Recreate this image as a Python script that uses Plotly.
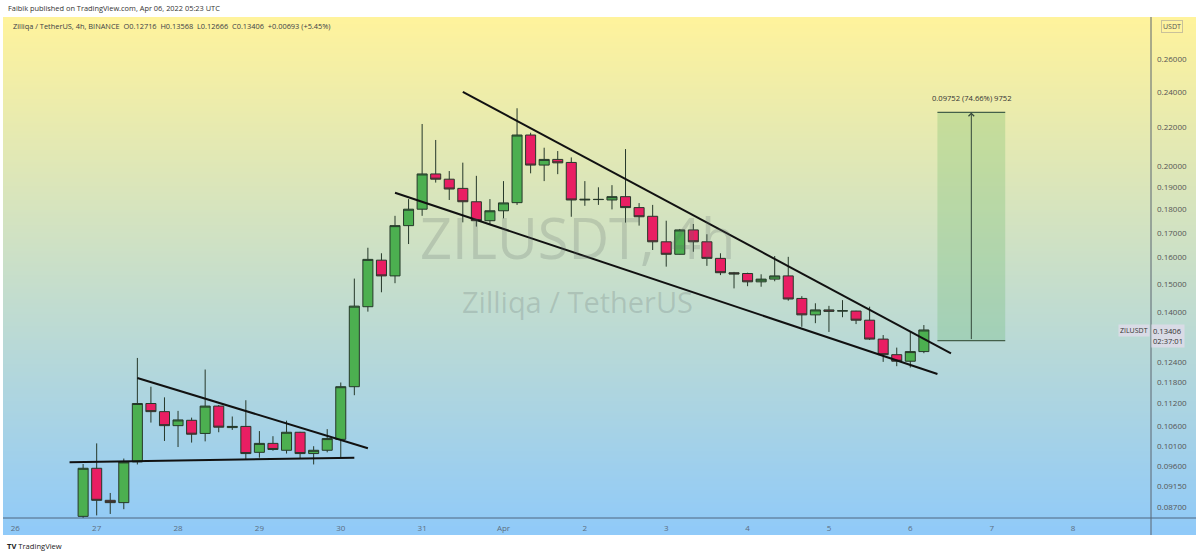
import base64
import math
import struct
import zlib

import pandas as pd
import plotly.graph_objects as go

# ---------------- data ----------------
times = pd.date_range("2022-03-26 20:00", periods=63, freq="4h")

opens = [0.0850, 0.0956, 0.0884, 0.0879, 0.0971, 0.1120, 0.1098, 0.1061, 0.1075, 0.1041,
         0.1113, 0.1056, 0.1059, 0.0994, 0.1016, 0.0999, 0.1044, 0.0991, 0.0999, 0.1026,
         0.1167, 0.1419, 0.1590, 0.1530, 0.1730, 0.1801, 0.1963, 0.1938, 0.1895, 0.1834,
         0.1751, 0.1794, 0.1830, 0.2159, 0.2006, 0.2034, 0.2019, 0.1842, 0.1845, 0.1842,
         0.1857, 0.1808, 0.1770, 0.1663, 0.1613, 0.1712, 0.1663, 0.1597, 0.1542, 0.1539,
         0.1508, 0.1518, 0.1530, 0.1448, 0.1391, 0.1408, 0.1404, 0.1404, 0.1373, 0.1311,
         0.1262, 0.1242, 0.12716]
highs = [0.0966, 0.1016, 0.0900, 0.0979, 0.1252, 0.1167, 0.1137, 0.1100, 0.1082, 0.1217,
         0.1116, 0.1085, 0.1129, 0.1047, 0.1034, 0.1074, 0.1045, 0.1009, 0.1052, 0.1179,
         0.1520, 0.1639, 0.1617, 0.1772, 0.1846, 0.2218, 0.2133, 0.1977, 0.2018, 0.1954,
         0.1846, 0.1929, 0.2305, 0.2171, 0.2093, 0.2076, 0.2044, 0.1929, 0.1900, 0.1910,
         0.2086, 0.1828, 0.1820, 0.1751, 0.1716, 0.1737, 0.1694, 0.1617, 0.1545, 0.1542,
         0.1536, 0.1606, 0.1603, 0.1456, 0.1431, 0.1422, 0.1442, 0.1405, 0.1419, 0.1324,
         0.1284, 0.1334, 0.13568]
lows = [0.0840, 0.0852, 0.0855, 0.0865, 0.0965, 0.1069, 0.1022, 0.1007, 0.1018, 0.1021,
        0.1044, 0.1050, 0.0977, 0.0981, 0.0998, 0.0991, 0.0978, 0.0965, 0.0994, 0.0981,
        0.1143, 0.1402, 0.1470, 0.1503, 0.1654, 0.1772, 0.1922, 0.1842, 0.1744, 0.1726,
        0.1733, 0.1761, 0.1820, 0.1966, 0.1929, 0.1962, 0.1768, 0.1816, 0.1820, 0.1800,
        0.1743, 0.1730, 0.1630, 0.1565, 0.1612, 0.1623, 0.1568, 0.1533, 0.1484, 0.1492,
        0.1490, 0.1510, 0.1440, 0.1351, 0.1363, 0.1334, 0.1383, 0.1360, 0.1308, 0.1240,
        0.1227, 0.1223, 0.12666]
closes = [0.0956, 0.0884, 0.0879, 0.0971, 0.1120, 0.1098, 0.1061, 0.1076, 0.1039, 0.1113,
          0.1057, 0.1059, 0.0991, 0.1016, 0.1001, 0.1044, 0.0991, 0.0999, 0.1028, 0.1167,
          0.1421, 0.1593, 0.1530, 0.1730, 0.1801, 0.1963, 0.1938, 0.1892, 0.1834, 0.1751,
          0.1794, 0.1829, 0.2159, 0.2006, 0.2034, 0.2017, 0.1842, 0.1845, 0.1844, 0.1857,
          0.1808, 0.1768, 0.1663, 0.1613, 0.1712, 0.1663, 0.1597, 0.1542, 0.1537, 0.1508,
          0.1518, 0.1530, 0.1446, 0.1391, 0.1408, 0.1403, 0.1405, 0.1373, 0.1311, 0.1262,
          0.1242, 0.12716, 0.13406]

# trend lines drawn on the chart (time, price)
tri_base_x = ["2022-03-26 16:00", "2022-03-30 04:00"]
tri_base_y = [0.0970, 0.0981]
tri_top_x = ["2022-03-27 12:00", "2022-03-30 08:00"]
tri_top_y = [0.1192, 0.1004]
wedge_top_x = ["2022-03-31 12:00", "2022-04-06 12:00"]
wedge_top_y = [0.2399, 0.1266]
wedge_bot_x = ["2022-03-30 16:00", "2022-04-06 08:00"]
wedge_bot_y = [0.1875, 0.1204]

# price-range measurement
meas_x = ["2022-04-06 08:00", "2022-04-07 04:00"]
meas_mid_x = "2022-04-06 18:00"
meas_lo = 0.13062
meas_hi = 0.22814
meas_label = "0.09752 (74.66%) 9752"

# axis ticks
price_ticks = [0.087, 0.0915, 0.096, 0.101, 0.106, 0.112, 0.118, 0.124, 0.14,
               0.15, 0.16, 0.17, 0.18, 0.19, 0.20, 0.22, 0.24, 0.26]
price_tick_text = ["%.5f" % v for v in price_ticks]
day_ticks = ["2022-03-26", "2022-03-27", "2022-03-28", "2022-03-29", "2022-03-30",
             "2022-03-31", "2022-04-01", "2022-04-02", "2022-04-03", "2022-04-04",
             "2022-04-05", "2022-04-06", "2022-04-07", "2022-04-08"]
day_labels = ["26", "27", "28", "29", "30", "31", "Apr", "2", "3", "4", "5", "6", "7", "8"]

# ---------------- gradient background image ----------------
TOP = (255, 243, 156)
BOT = (144, 202, 249)


def gradient_png(h):
    rows = []
    for r in range(h):
        t = r / (h - 1)
        c = [round(TOP[k] + (BOT[k] - TOP[k]) * t) for k in range(3)]
        rows.append(b"\x00" + bytes(c * 2))
    raw = b"".join(rows)

    def chunk(tag, data):
        return (struct.pack(">I", len(data)) + tag + data +
                struct.pack(">I", zlib.crc32(tag + data) & 0xFFFFFFFF))

    png = (b"\x89PNG\r\n\x1a\n" +
           chunk(b"IHDR", struct.pack(">IIBBBBB", 2, h, 8, 2, 0, 0, 0)) +
           chunk(b"IDAT", zlib.compress(raw)) + chunk(b"IEND", b""))
    return "data:image/png;base64," + base64.b64encode(png).decode()


W, H = 1200, 557
L, R, T, B = 3, 1151, 17, 518


def px(x):
    return (x - L) / (R - L)


def py(y):
    return (B - y) / (B - T)


FONT = "Open Sans"
TXT = "#3b3e45"
EDGE = "#26382a"

fig = go.Figure()

# measurement box
fig.add_trace(go.Scatter(
    x=[meas_x[0], meas_x[1], meas_x[1], meas_x[0], meas_x[0]],
    y=[meas_lo, meas_lo, meas_hi, meas_hi, meas_lo],
    fill="toself", fillcolor="rgba(76,175,80,0.22)", mode="lines",
    line=dict(width=0), hoverinfo="skip", showlegend=False))
for yv in (meas_lo, meas_hi):
    fig.add_trace(go.Scatter(x=meas_x, y=[yv, yv], mode="lines",
                             line=dict(color="#44604a", width=1.2),
                             hoverinfo="skip", showlegend=False))

fig.add_trace(go.Candlestick(
    x=times, open=opens, high=highs, low=lows, close=closes,
    increasing=dict(fillcolor="#4caf50", line=dict(color=EDGE, width=1)),
    decreasing=dict(fillcolor="#e91e63", line=dict(color=EDGE, width=1)),
    whiskerwidth=0, hoverinfo="skip", showlegend=False))

for xs, ys in ((tri_base_x, tri_base_y), (tri_top_x, tri_top_y),
               (wedge_top_x, wedge_top_y), (wedge_bot_x, wedge_bot_y)):
    fig.add_trace(go.Scatter(x=xs, y=ys, mode="lines",
                             line=dict(color="#111111", width=2),
                             hoverinfo="skip", showlegend=False))

annotations = [
    dict(text="Faibik published on TradingView.com, Apr 06, 2022 05:23 UTC",
         x=px(6), y=py(8), xref="paper", yref="paper", xanchor="left", yanchor="middle",
         showarrow=False, font=dict(family=FONT, size=7.4, color="#333333")),
    dict(text="Zilliqa / TetherUS, 4h, BINANCE  O0.12716  H0.13568  L0.12666  C0.13406  +0.00693 (+5.45%)",
         x=px(11), y=py(26), xref="paper", yref="paper", xanchor="left", yanchor="middle",
         showarrow=False, font=dict(family=FONT, size=7.4, color=TXT)),
    dict(text="ZILUSDT, 4h", x=0.5, y=py(237), xref="paper", yref="paper",
         xanchor="center", yanchor="middle", showarrow=False,
         font=dict(family=FONT, size=56, color="rgba(95,105,105,0.22)")),
    dict(text="Zilliqa / TetherUS", x=0.5, y=py(302), xref="paper", yref="paper",
         xanchor="center", yanchor="middle", showarrow=False,
         font=dict(family=FONT, size=29, color="rgba(95,105,105,0.22)")),
    dict(text=meas_label, x=meas_mid_x, y=math.log10(meas_hi), xref="x", yref="y",
         yshift=14, showarrow=False, font=dict(family=FONT, size=7.6, color="#333333")),
    dict(text="", x=meas_mid_x, y=math.log10(meas_hi), ax=meas_mid_x,
         ay=math.log10(meas_lo), xref="x", yref="y", axref="x", ayref="y",
         showarrow=True, arrowhead=4, arrowsize=1.1, arrowwidth=1, arrowcolor="#34483a",
         standoff=0, startstandoff=0),
    dict(text="USDT", x=px(1171.5), y=py(27), xref="paper", yref="paper",
         xanchor="center", yanchor="middle", showarrow=False,
         font=dict(family=FONT, size=7, color="#555555"),
         bgcolor="rgb(254,243,160)", bordercolor="#c9c19a", borderwidth=1, borderpad=1),
    dict(text="ZILUSDT", x=px(1150), y=py(330.5), xref="paper", yref="paper",
         xanchor="right", yanchor="middle", showarrow=False,
         font=dict(family=FONT, size=7, color="#333333"),
         bgcolor="#d9dbe6", borderpad=1),
    dict(text="0.13406<br>02:37:01", x=px(1151), y=py(336), xref="paper", yref="paper",
         xanchor="left", yanchor="middle", showarrow=False, align="left",
         font=dict(family=FONT, size=7.6, color="#333333"),
         bgcolor="#d9dbe6", borderpad=1),
    dict(text="<b>TV</b> TradingView", x=px(5), y=py(546), xref="paper", yref="paper",
         xanchor="left", yanchor="middle", showarrow=False,
         font=dict(family=FONT, size=7.6, color="#222222")),
]

shapes = [
    dict(type="line", xref="paper", yref="paper", x0=px(L), x1=px(1196), y0=0, y1=0,
         line=dict(color="#4f6680", width=1)),
    dict(type="line", xref="paper", yref="paper", x0=1, x1=1, y0=py(T), y1=py(535),
         line=dict(color="#5b6470", width=1)),
]

fig.update_layout(
    width=W, height=H, autosize=False,
    margin=dict(l=L, r=W - R, t=T, b=H - B),
    paper_bgcolor="white", plot_bgcolor="rgba(0,0,0,0)",
    showlegend=False,
    boxgap=0.26, boxgroupgap=0,
    images=[dict(source=gradient_png(256), xref="paper", yref="paper",
                 x=0, y=1, sizex=px(1196), sizey=(535 - T) / (B - T),
                 xanchor="left", yanchor="top", sizing="stretch", layer="below")],
    xaxis=dict(type="date", range=["2022-03-25 20:22", "2022-04-08 23:00"],
               rangeslider=dict(visible=False), showgrid=False, zeroline=False,
               tickmode="array", tickvals=day_ticks, ticktext=day_labels,
               ticks="", ticklabelstandoff=4,
               tickfont=dict(family=FONT, size=8, color="#5c6e80"), fixedrange=True),
    yaxis=dict(type="log", range=[math.log10(0.08466), math.log10(0.2881)],
               side="right", showgrid=False, zeroline=False,
               tickmode="array", tickvals=price_ticks, ticktext=price_tick_text,
               ticks="", ticklabelstandoff=5,
               tickfont=dict(family=FONT, size=8, color="#555555"), fixedrange=True),
    annotations=annotations,
    shapes=shapes,
)

fig.write_html("out.html", config={"displayModeBar": False})
